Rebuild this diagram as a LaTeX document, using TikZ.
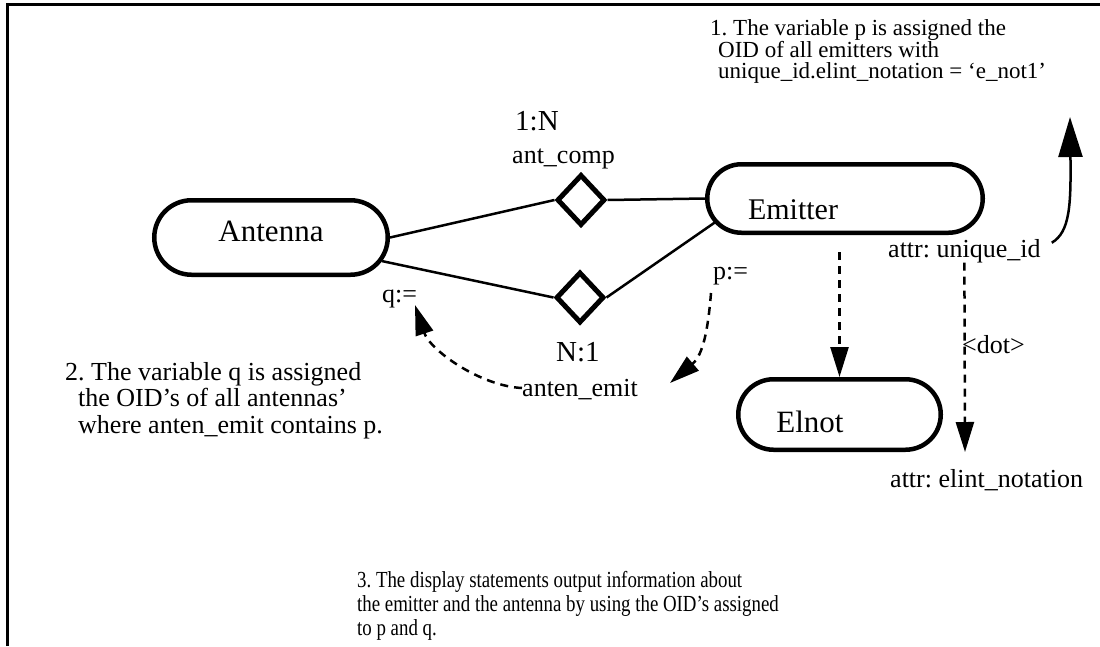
\documentclass[tikz,border=0pt]{standalone}
\usepackage{fontspec}
\setmainfont{Liberation Serif}
\newfontfamily\narrowserif[FakeStretch=0.82]{Liberation Serif}
\usetikzlibrary{shapes.misc,shapes.geometric,arrows.meta,calc}
\frenchspacing
\begin{document}
\begin{tikzpicture}[x=1pt,y=-1pt,
  pill/.style={rounded rectangle, draw, line width=4.5pt, inner sep=0pt},
  pilltext/.style={font=\fontsize{31}{31}\selectfont, inner sep=0pt},
  rel/.style={diamond, draw, line width=5pt, inner sep=0pt, minimum width=48pt, minimum height=51pt},
  conn/.style={line width=2.5pt},
  dasharrow/.style={line width=2.5pt, dash pattern=on 8pt off 6pt, -{Triangle[length=30pt,width=18pt]}},
  lbl/.style={inner sep=0pt, anchor=base west, font=\fontsize{26}{26.5}\selectfont},
  card/.style={lbl, font=\fontsize{29}{29}\selectfont},
  note/.style={inner sep=0pt, anchor=base west, align=left},
]
\useasboundingbox (0,0) rectangle (1100,646);
% frame
\draw[line width=3pt] (7,646) -- (7,4) -- (1100,4);

% entities
\node[pill, minimum width=233.5pt, minimum height=74.5pt,
      label={[pilltext, yshift=5.75pt]center:Antenna}] (antenna) at (271,237.5) {};
\node[pill, minimum width=275.5pt, minimum height=68.5pt,
      label={[pilltext, font=\fontsize{30}{30}\selectfont, xshift=-52pt, yshift=-11.5pt]center:Emitter}] (emitter) at (845,198.5) {};
\node[pill, minimum width=202.5pt, minimum height=70.5pt,
      label={[pilltext, xshift=-29.5pt, yshift=-7pt]center:Elnot}] (elnot) at (839.5,414.5) {};

% relationships
\node[rel] (d1) at (581,200) {};
\node[rel] (d2) at (580,297.5) {};

\draw[conn] (antenna.east) -- (d1.west);
\draw[conn] (antenna) -- (d2.west);
\draw[conn] (d1.east) -- (emitter.west);
\draw[conn] (d2.east) -- ($(emitter.west)+(10.5,23.5)$);

% labels
\node[card] (card1) at (515,130) {1:N};
\node[lbl] (rel1) at (512,163) {ant\_comp};
\node[card] (card2) at (556,361) {N:1};
\node[lbl] (rel2) at (522,396) {anten\_emit};
\node[lbl] (qlab) at (382,302) {q:=};
\node[lbl] (plab) at (713,279) {p:=};
\node[lbl] (uid) at (888,257) {attr: unique\_id};
\node[lbl] (dotlab) at (962,353) {<dot>};
\node[lbl] (elint) at (890,487) {attr: elint\_notation};

% notes (base anchor = baseline of the last line)
\node[note, font=\fontsize{23}{20.5}\selectfont] (note1) at (710,78)
  {1. The variable p is assigned the\\\hspace*{8pt}OID of all emitters with\\\hspace*{8pt}unique\_id.elint\_notation = ‘e\_not1’};
\node[note, font=\fontsize{26}{26.5}\selectfont] (note2) at (65,433)
  {2. The variable q is assigned\\\hspace*{13pt}the OID’s of all antennas’\\\hspace*{13pt}where anten\_emit contains p.};
\node[note, font=\narrowserif\fontsize{23}{24}\selectfont] (note3) at (357,635)
  {3. The display statements output information about\\the emitter and the antenna by using the OID’s assigned\\to p and q.};

% dashed arrows
\coordinate (pS) at (711,293);
\coordinate (pE) at (670,383);
\draw[dasharrow] (pS) .. controls (708,330) and (703,355) .. (pE);
\coordinate (qS) at (522,388);
\coordinate (qE) at (415,305);
\draw[dasharrow] (qS) .. controls (480,386) and (430,350) .. (qE);
\draw[dasharrow] ($(elnot.north)+(0,-125)$) -- (elnot.north);
\coordinate (dotE) at (965,452);
\draw[dasharrow] (uid.south) -- (dotE);

% solid curved arrow
\coordinate (upE) at (1070,117);
\draw[conn, -{Triangle[length=40pt,width=24pt]}] ($(uid.east)+(11,-8)$) .. controls (1070,232) and (1071,205) .. (upE);
\end{tikzpicture}
\end{document}
